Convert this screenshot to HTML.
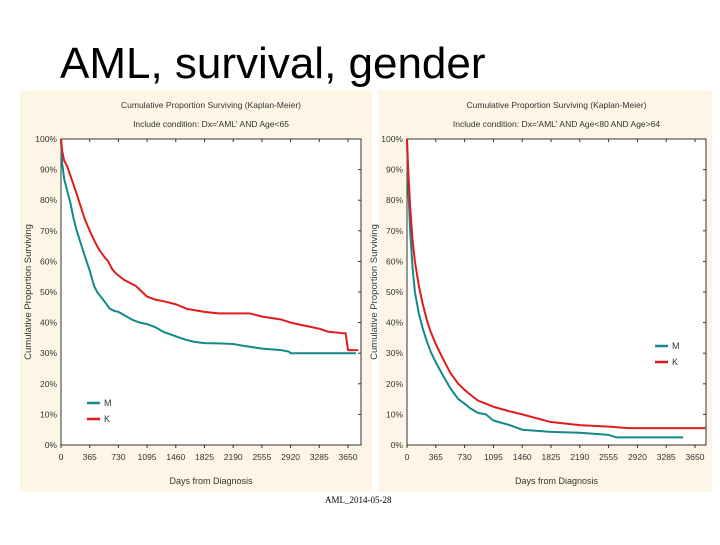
<!DOCTYPE html>
<html><head><meta charset="utf-8"><style>
body{margin:0;background:#fff;width:720px;height:540px;overflow:hidden;font-family:"Liberation Sans",sans-serif}
</style></head><body>
<svg width="720" height="540">
<text x="60" y="78" font-size="44" fill="#000" font-family="Liberation Sans">AML, survival, gender</text>
<rect x="20" y="90" width="352" height="402" fill="#fdf6e6"/>
<rect x="378" y="90" width="334" height="402" fill="#fdf6e6"/>
<g id="left"></g>
<g id="right"></g>
<text x="325" y="503" font-size="9" font-family="Liberation Serif">AML_2014-05-28</text>
</svg>
<script>
const xTicks=[0,365,730,1095,1460,1825,2190,2555,2920,3285,3650];
const yTicks=[0,10,20,30,40,50,60,70,80,90,100];
const leftMDays=[0,15,40,80,120,160,200,250,300,365,420,460,520,580,620,680,730,800,900,1000,1095,1200,1300,1460,1600,1700,1825,2000,2190,2300,2555,2800,2900,2920,3750];
const leftMVals=[100,92,87,83,79,74,70,66,62,57,52,50,48,46,44.5,43.8,43.5,42.5,41,40,39.5,38.5,37,35.5,34.3,33.7,33.3,33.2,33,32.5,31.5,31,30.5,30,30];
const leftKDays=[0,15,40,80,120,160,200,250,300,365,420,480,550,600,650,700,800,950,1095,1200,1300,1460,1600,1825,2000,2400,2555,2800,2920,3100,3285,3400,3600,3620,3650,3780];
const leftKVals=[100,96,93,91,88,85,82,78,74,70,67,64,61.5,60,57.5,56,54,52,48.5,47.5,47,46,44.5,43.5,43,43,42,41,40,39,38,37,36.5,36.5,31,31];
const rightMDays=[0,15,40,70,100,150,200,250,300,365,450,550,650,730,800,900,1000,1095,1300,1460,1825,2190,2555,2650,3500];
const rightMVals=[100,85,70,58,50,43,38,34,30.5,27,23,18.5,15,13.5,12,10.5,10,8,6.5,5,4.3,4,3.3,2.5,2.5];
const rightKDays=[0,15,40,70,100,150,200,250,300,365,450,550,650,730,800,900,1000,1095,1300,1460,1825,2190,2555,2800,3780];
const rightKVals=[100,90,78,67,60,52,46,41,37,33,28.5,23.5,20,18,16.5,14.5,13.5,12.5,11,10,7.5,6.5,6,5.5,5.5];
const NS="http://www.w3.org/2000/svg";
function mk(p,t,a){const e=document.createElementNS(NS,t);for(const k in a)e.setAttribute(k,a[k]);p.appendChild(e);return e;}
function draw(g,x0,x1,x3650,sub,series,leg){
 const y0=445,y1=139;
 const X=d=>x0+d*(x3650-x0)/3650, Y=v=>y0-v*(y0-y1)/100;
 const cx=(x0+x1)/2;
 let t=mk(g,'text',{x:cx,y:108,'font-size':8.5,'text-anchor':'middle',fill:'#333'});t.textContent='Cumulative Proportion Surviving (Kaplan-Meier)';
 
 
 t=mk(g,'text',{x:cx,y:127,'font-size':8.5,'text-anchor':'middle',fill:'#333'});t.textContent=sub;
 
 
 const r=mk(g,'rect',{x:x0,y:y1,width:x1-x0,height:y0-y1,fill:'#fff',stroke:'#333','stroke-width':1});
 
 
 yTicks.forEach(v=>{const l=mk(g,'text',{x:x0-4,y:Y(v)+3,'font-size':8.5,'text-anchor':'end',fill:'#333'});l.textContent=v+'%';
  
  
  mk(g,'line',{x1:x1-3,x2:x1,y1:Y(v),y2:Y(v),stroke:'#333'});});
 xTicks.forEach(d=>{const l=mk(g,'text',{x:X(d),y:y0+15,'font-size':8.5,'text-anchor':'middle',fill:'#333'});l.textContent=d;
  
  
  mk(g,'line',{x1:X(d),x2:X(d),y1:y0,y2:y0+3,stroke:'#333'});mk(g,'line',{x1:X(d),x2:X(d),y1:y1,y2:y1+3,stroke:'#333'});});
 t=mk(g,'text',{x:cx,y:484,'font-size':9,'text-anchor':'middle',fill:'#333'});t.textContent='Days from Diagnosis';
 
 
 t=mk(g,'text',{x:0,y:0,'font-size':9.5,'text-anchor':'middle',fill:'#333',transform:`translate(${x0-30},292) rotate(-90)`});t.textContent='Cumulative Proportion Surviving';
 
 
 series.forEach(s=>{const pts=s.d.map((d,i)=>X(d)+','+Y(s.v[i]));
  const p=mk(g,'polyline',{points:pts.join(' '),fill:'none',stroke:s.c,'stroke-width':2,'stroke-linejoin':'round'});
  
  });
 series.forEach((s,i)=>{const ly=leg[1]+i*16;
  const l=mk(g,'line',{x1:leg[0],x2:leg[0]+13,y1:ly,y2:ly,stroke:s.c,'stroke-width':2.5});
  
  
  const tt=mk(g,'text',{x:leg[0]+17,y:ly+3,'font-size':9,fill:'#333'});tt.textContent=s.n;
  
  });
}
draw(document.getElementById('left'),61,361,348,"Include condition: Dx='AML' AND Age<65",
 [{n:'M',c:'#138a87',d:leftMDays,v:leftMVals},{n:'K',c:'#e01b1b',d:leftKDays,v:leftKVals}],[87,403]);
draw(document.getElementById('right'),407,706,695,"Include condition: Dx='AML' AND Age<80 AND Age>64",
 [{n:'M',c:'#138a87',d:rightMDays,v:rightMVals},{n:'K',c:'#e01b1b',d:rightKDays,v:rightKVals}],[655,346]);
</script>
</body></html>
